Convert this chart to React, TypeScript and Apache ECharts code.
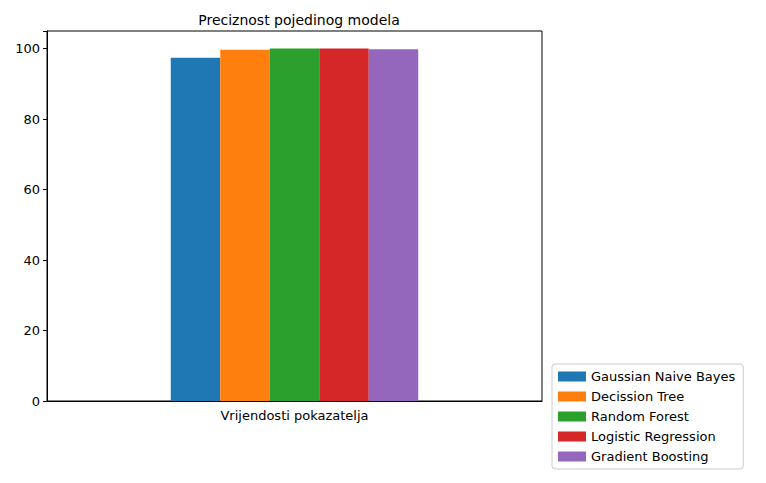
import React, { useEffect, useRef } from 'react';
import * as echarts from 'echarts';

const categories = ['Vrijendosti pokazatelja'];
const seriesNames = ['Gaussian Naive Bayes', 'Decission Tree', 'Random Forest', 'Logistic Regression', 'Gradient Boosting'];
const seriesValues = [97.4, 99.7, 100, 100, 99.8];
const colors = ['#1f77b4', '#ff7f0e', '#2ca02c', '#d62728', '#9467bd'];
const yTicks = [0, 20, 40, 60, 80, 100];

const font = 'DejaVu Sans';

const App: React.FC = () => {
  const chartRef = useRef<HTMLDivElement>(null);

  useEffect(() => {
    if (!chartRef.current) return;
    const chart = echarts.init(chartRef.current, undefined, { renderer: 'svg' });
    chart.setOption({
      animation: false,
      textStyle: { fontFamily: font },
      title: {
        text: 'Preciznost pojedinog modela',
        left: 294,
        textAlign: 'center',
        top: 8,
        textStyle: { fontFamily: font, fontSize: 14, fontWeight: 'normal', color: '#000' }
      },
      grid: {
        left: 47, top: 31, width: 495, height: 370,
        show: true, borderColor: '#000', borderWidth: 1, backgroundColor: '#fff'
      },
      legend: {
        orient: 'vertical',
        left: 552, top: 364,
        padding: [6, 8, 6, 6],
        itemGap: 7,
        itemWidth: 28, itemHeight: 10,
        icon: 'rect',
        borderColor: '#ccc', borderWidth: 1, borderRadius: 3,
        textStyle: { fontFamily: font, fontSize: 13, color: '#000' },
        data: seriesNames
      },
      xAxis: {
        type: 'category',
        data: categories,
        axisLine: { lineStyle: { color: '#000' } },
        axisTick: { alignWithLabel: true, length: 4, lineStyle: { color: '#000' } },
        axisLabel: { color: '#000', fontSize: 13, margin: 8 }
      },
      yAxis: {
        type: 'value',
        min: 0, max: 105, interval: 20,
        splitLine: { show: false },
        axisLine: { show: true, lineStyle: { color: '#000' } },
        axisTick: { show: true, length: 4, lineStyle: { color: '#000' } },
        axisLabel: {
          color: '#000', fontSize: 13, margin: 7,
          formatter: (v: number) => (yTicks.includes(v) ? String(v) : '')
        }
      },
      series: seriesNames.map((name, i) => ({
        name,
        type: 'bar',
        data: [seriesValues[i]],
        barWidth: '10%',
        barGap: '0%',
        itemStyle: { color: colors[i] }
      }))
    });
    return () => chart.dispose();
  }, []);

  return <div ref={chartRef} style={{ width: 766, height: 483, margin: -8 }} />;
};

export default App;
